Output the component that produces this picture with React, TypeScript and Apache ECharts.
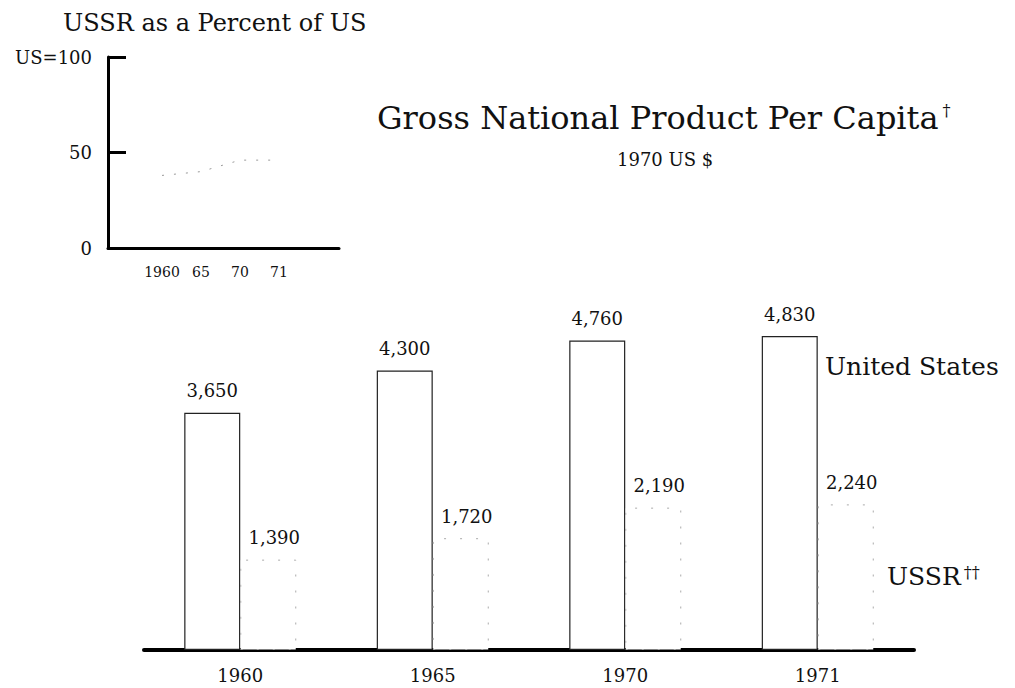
import React, { useEffect, useRef } from "react";
import * as echarts from "echarts";

const years = ["1960", "1965", "1970", "1971"];
const usValues = [3650, 4300, 4760, 4830];
const ussrValues = [1390, 1720, 2190, 2240];
const insetLabels = ["1960", "65", "70", "71"];
const insetPercent = [38, 40, 46, 46];

const FONT = "DejaVu Serif";

export default function App() {
  const ref = useRef<HTMLDivElement>(null);
  useEffect(() => {
    document.body.style.margin = "0";
    const chart = echarts.init(ref.current!, null, { renderer: "svg" });
    chart.setOption({
      animation: false,
      backgroundColor: "#fff",
      textStyle: { fontFamily: FONT, color: "#111" },
      title: [
        {
          text: "USSR as a Percent of US",
          left: 58,
          top: 6,
          textStyle: { fontFamily: FONT, fontSize: 24, fontWeight: "normal", color: "#111" },
        },
        {
          text: "{a|Gross National Product Per Capita}{s|†}",
          left: 372,
          top: 97,
          textStyle: {
            rich: {
              a: { fontFamily: FONT, fontSize: 32, fontWeight: "normal", color: "#111" },
              s: { fontFamily: FONT, fontSize: 16, fontWeight: "normal", color: "#111", verticalAlign: "top", padding: [0, 0, 12, 4] },
            },
          },
        },
        {
          text: "1970 US $",
          left: 612,
          top: 145,
          textStyle: { fontFamily: FONT, fontSize: 18, fontWeight: "normal", color: "#111" },
        },
      ],
      grid: [
        { left: 144, top: 325, width: 770, height: 325 },
        { left: 108, top: 57, width: 231, height: 191 },
        { left: 162, top: 57, width: 117, height: 191 },
      ],
      xAxis: [
        {
          type: "category",
          gridIndex: 0,
          data: years,
          axisLine: { lineStyle: { color: "#000", width: 4 } },
          axisTick: { show: false },
          axisLabel: { margin: 16, fontFamily: FONT, fontSize: 18, color: "#111" },
        },
        {
          type: "value",
          gridIndex: 1,
          min: 0,
          max: 10,
          axisLine: { show: true, onZero: false, lineStyle: { color: "#000", width: 3 } },
          axisTick: { show: false },
          axisLabel: { show: false },
          splitLine: { show: false },
        },
        {
          type: "category",
          gridIndex: 2,
          data: insetLabels,
          boundaryGap: false,
          axisLine: { show: false },
          axisTick: { show: false },
          axisLabel: { interval: 0, margin: 17, fontFamily: FONT, fontSize: 14, color: "#111" },
        },
      ],
      yAxis: [
        {
          type: "value",
          gridIndex: 0,
          min: 0,
          max: 5000,
          show: false,
        },
        {
          type: "value",
          gridIndex: 1,
          min: 0,
          max: 100,
          interval: 50,
          axisLine: { show: true, lineStyle: { color: "#000", width: 3 } },
          axisTick: { show: true, inside: true, length: 18, lineStyle: { color: "#000", width: 3 } },
          axisLabel: {
            margin: 16,
            fontFamily: FONT,
            fontSize: 18,
            color: "#111",
            formatter: (v: number) => (v === 100 ? "US=100" : String(v)),
          },
          splitLine: { show: false },
        },
        {
          type: "value",
          gridIndex: 2,
          min: 0,
          max: 100,
          show: false,
        },
      ],
      series: [
        {
          name: "United States",
          type: "bar",
          xAxisIndex: 0,
          yAxisIndex: 0,
          data: usValues,
          barWidth: 56,
          barGap: "0%",
          itemStyle: { color: "#fff", borderColor: "#222", borderWidth: 1.2 },
          label: {
            show: true,
            position: "top",
            distance: 13,
            fontFamily: FONT,
            fontSize: 18,
            color: "#111",
            formatter: (p: any) => p.value.toLocaleString("en-US"),
          },
        },
        {
          name: "USSR",
          type: "bar",
          xAxisIndex: 0,
          yAxisIndex: 0,
          data: ussrValues,
          barWidth: 56,
          barGap: "0%",
          itemStyle: { color: "#fff", borderColor: "#aaa", borderWidth: 1, borderType: [2, 14] },
          label: {
            show: true,
            position: "top",
            distance: 13,
            offset: [6, 0],
            fontFamily: FONT,
            fontSize: 18,
            color: "#111",
            formatter: (p: any) => p.value.toLocaleString("en-US"),
          },
        },
        {
          name: "USSR % of US",
          type: "line",
          xAxisIndex: 2,
          yAxisIndex: 2,
          data: insetPercent,
          symbol: "none",
          lineStyle: { color: "#999", width: 1, type: [2, 10] },
        },
      ],
      graphic: [
        {
          type: "text",
          left: 825,
          top: 354,
          style: { text: "United States", fontFamily: FONT, fontSize: 25, fill: "#111" },
        },
        {
          type: "text",
          left: 887,
          top: 564,
          style: {
            text: "{a|USSR}{s|††}",
            rich: {
              a: { fontFamily: FONT, fontSize: 25, fill: "#111" },
              s: { fontFamily: FONT, fontSize: 16, fill: "#111", verticalAlign: "top", padding: [0, 0, 0, 3] },
            },
          },
        },
      ],
    });
    return () => chart.dispose();
  }, []);
  return <div ref={ref} style={{ width: 1015, height: 688 }} />;
}
